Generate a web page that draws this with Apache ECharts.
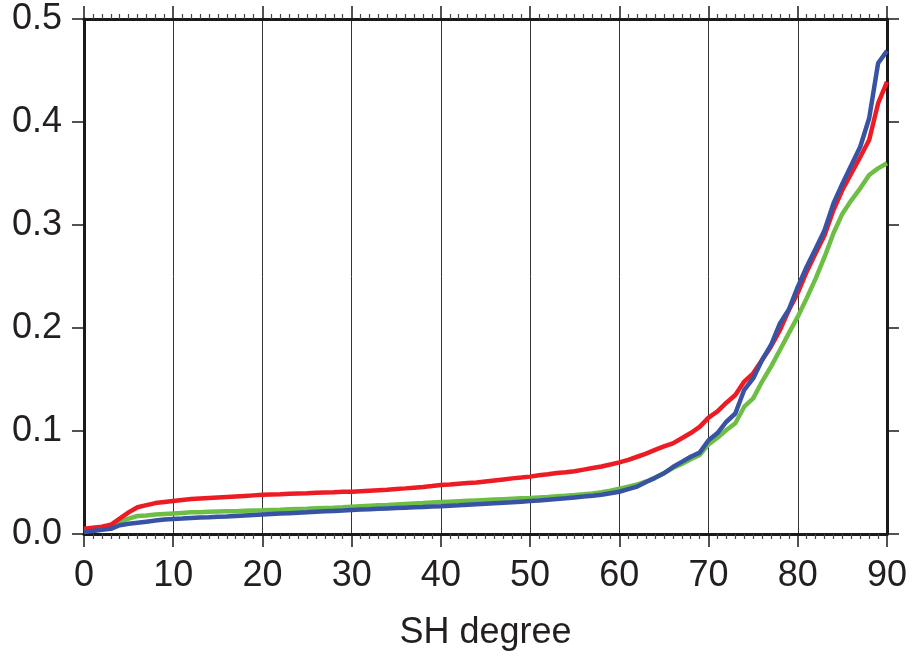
<!DOCTYPE html>
<html>
<head>
<meta charset="utf-8">
<script src="https://cdn.jsdelivr.net/npm/echarts@6/dist/echarts.min.js"></script>
<style>
  html, body { margin: 0; padding: 0; background: #fff; }
  #chart { width: 912px; height: 656px; }
</style>
</head>
<body>
<div id="chart"></div>
<script>
// SH degree 0..90
var degrees = [];
for (var d = 0; d <= 90; d++) degrees.push(d);

var xTicks = [0, 10, 20, 30, 40, 50, 60, 70, 80, 90];
var yTicks = [0.0, 0.1, 0.2, 0.3, 0.4, 0.5];

var redValues = [
  0.005, 0.006, 0.007, 0.009, 0.015, 0.021, 0.026, 0.028, 0.030, 0.031,
  0.032, 0.033, 0.034, 0.0345, 0.035, 0.0355, 0.036, 0.0365, 0.037, 0.0375,
  0.038, 0.0383, 0.0386, 0.039, 0.0393, 0.0396, 0.040, 0.0403, 0.0406, 0.041,
  0.041, 0.0415, 0.042, 0.0425, 0.043, 0.0437, 0.0443, 0.045, 0.0457, 0.0465,
  0.0476, 0.048, 0.0488, 0.0495, 0.050, 0.051, 0.052, 0.053, 0.054, 0.0548,
  0.0557, 0.057, 0.058, 0.0592, 0.060, 0.061, 0.0625, 0.064, 0.0655, 0.0675,
  0.0696, 0.072, 0.075, 0.078, 0.0816, 0.085, 0.088, 0.093, 0.098, 0.104,
  0.113, 0.119, 0.1275, 0.135, 0.148, 0.156, 0.169, 0.182, 0.198, 0.2175,
  0.234, 0.2547, 0.2725, 0.290, 0.3146, 0.334, 0.350, 0.366, 0.3825, 0.418,
  0.439
];

var greenValues = [
  0.003, 0.004, 0.005, 0.007, 0.012, 0.015, 0.0175, 0.018, 0.019, 0.0195,
  0.020, 0.0205, 0.021, 0.0212, 0.0215, 0.0218, 0.022, 0.0222, 0.0225, 0.0228,
  0.023, 0.0233, 0.0236, 0.024, 0.0243, 0.0246, 0.025, 0.0253, 0.0256, 0.026,
  0.0265, 0.027, 0.0274, 0.0278, 0.0282, 0.0287, 0.0292, 0.0296, 0.030, 0.0305,
  0.031, 0.0314, 0.0318, 0.0322, 0.0326, 0.033, 0.0334, 0.0338, 0.0342, 0.0346,
  0.035, 0.0355, 0.036, 0.0366, 0.0372, 0.0378, 0.0385, 0.0393, 0.0405, 0.042,
  0.044, 0.046, 0.048, 0.051, 0.0545, 0.059, 0.064, 0.068, 0.0725, 0.0767,
  0.087, 0.0935, 0.101, 0.1075, 0.1236, 0.1317, 0.148, 0.1625, 0.1786, 0.195,
  0.211, 0.229, 0.248, 0.269, 0.292, 0.311, 0.324, 0.3356, 0.3485, 0.355,
  0.360
];

var blueValues = [
  0.002, 0.003, 0.004, 0.005, 0.0085, 0.010, 0.011, 0.012, 0.013, 0.014,
  0.0146, 0.015, 0.0155, 0.016, 0.0163, 0.0167, 0.017, 0.0175, 0.018, 0.0185,
  0.019, 0.0194, 0.0198, 0.0202, 0.0206, 0.021, 0.0215, 0.022, 0.0224, 0.0228,
  0.0233, 0.0237, 0.024, 0.0244, 0.0248, 0.0252, 0.0256, 0.026, 0.0263, 0.0267,
  0.027, 0.0274, 0.0278, 0.0283, 0.0288, 0.0293, 0.0298, 0.0303, 0.0308, 0.0314,
  0.032, 0.0326, 0.0333, 0.034, 0.0347, 0.0355, 0.0363, 0.0372, 0.0382, 0.0395,
  0.041, 0.0435, 0.046, 0.0505, 0.0545, 0.059, 0.065, 0.070, 0.075, 0.079,
  0.091, 0.098, 0.109, 0.117, 0.140, 0.151, 0.169, 0.1835, 0.2045, 0.218,
  0.240, 0.2595, 0.277, 0.295, 0.321, 0.340, 0.358, 0.376, 0.4036, 0.457,
  0.469
];

function pairs(vals) {
  return degrees.map(function (d, i) { return [d, vals[i]]; });
}

var font = 'Liberation Sans, Arial, sans-serif';
var axisBlack = '#1a1a1a';

var chart = echarts.init(document.getElementById('chart'), null, { renderer: 'canvas' });

chart.setOption({
  animation: false,
  backgroundColor: '#ffffff',
  grid: { left: 84, right: 25, top: 19, bottom: 122, containLabel: false },
  xAxis: [{
    type: 'value',
    position: 'bottom',
    min: xTicks[0],
    max: xTicks[xTicks.length - 1],
    interval: 10,
    name: 'SH degree',
    nameLocation: 'middle',
    nameGap: 81,
    nameTextStyle: { fontFamily: font, fontSize: 36, color: '#231f20' },
    axisLine: { onZero: false, lineStyle: { color: axisBlack, width: 3 } },
    axisTick: { show: true, inside: false, length: 13, lineStyle: { color: axisBlack, width: 1.5 } },
    minorTick: { show: true, splitNumber: 10, length: 5, lineStyle: { color: '#444', width: 1.2 } },
    axisLabel: { fontFamily: font, fontSize: 36, color: '#231f20', margin: 24 },
    splitLine: { show: true, lineStyle: { color: '#333', width: 1 } }
  }, {
    type: 'value',
    position: 'top',
    min: xTicks[0],
    max: xTicks[xTicks.length - 1],
    interval: 10,
    axisLine: { onZero: false, lineStyle: { color: axisBlack, width: 3 } },
    axisTick: { show: true, inside: false, length: 13, lineStyle: { color: axisBlack, width: 1.5 } },
    minorTick: { show: true, splitNumber: 10, length: 5, lineStyle: { color: '#444', width: 1.2 } },
    axisLabel: { show: false },
    splitLine: { show: false }
  }],
  yAxis: [{
    type: 'value',
    position: 'left',
    min: yTicks[0],
    max: yTicks[yTicks.length - 1],
    interval: 0.1,
    axisLine: { show: true, onZero: false, lineStyle: { color: axisBlack, width: 3 } },
    axisTick: { show: true, inside: false, length: 12, lineStyle: { color: axisBlack, width: 1.5 } },
    axisLabel: {
      fontFamily: font, fontSize: 36, color: '#231f20', margin: 22,
      formatter: function (v) { return v.toFixed(1); }
    },
    splitLine: { show: false }
  }, {
    type: 'value',
    position: 'right',
    min: yTicks[0],
    max: yTicks[yTicks.length - 1],
    interval: 0.1,
    axisLine: { show: true, onZero: false, lineStyle: { color: axisBlack, width: 3 } },
    axisTick: { show: true, inside: false, length: 12, lineStyle: { color: axisBlack, width: 1.5 } },
    axisLabel: { show: false },
    splitLine: { show: false }
  }],
  series: [{
    name: 'green',
    type: 'line',
    showSymbol: false,
    lineStyle: { color: '#6dbe45', width: 4.5 },
    data: pairs(greenValues)
  }, {
    name: 'red',
    type: 'line',
    showSymbol: false,
    lineStyle: { color: '#ed1c24', width: 4.5 },
    data: pairs(redValues)
  }, {
    name: 'blue',
    type: 'line',
    showSymbol: false,
    lineStyle: { color: '#3953a4', width: 4.5 },
    data: pairs(blueValues)
  }]
});
</script>
</body>
</html>
